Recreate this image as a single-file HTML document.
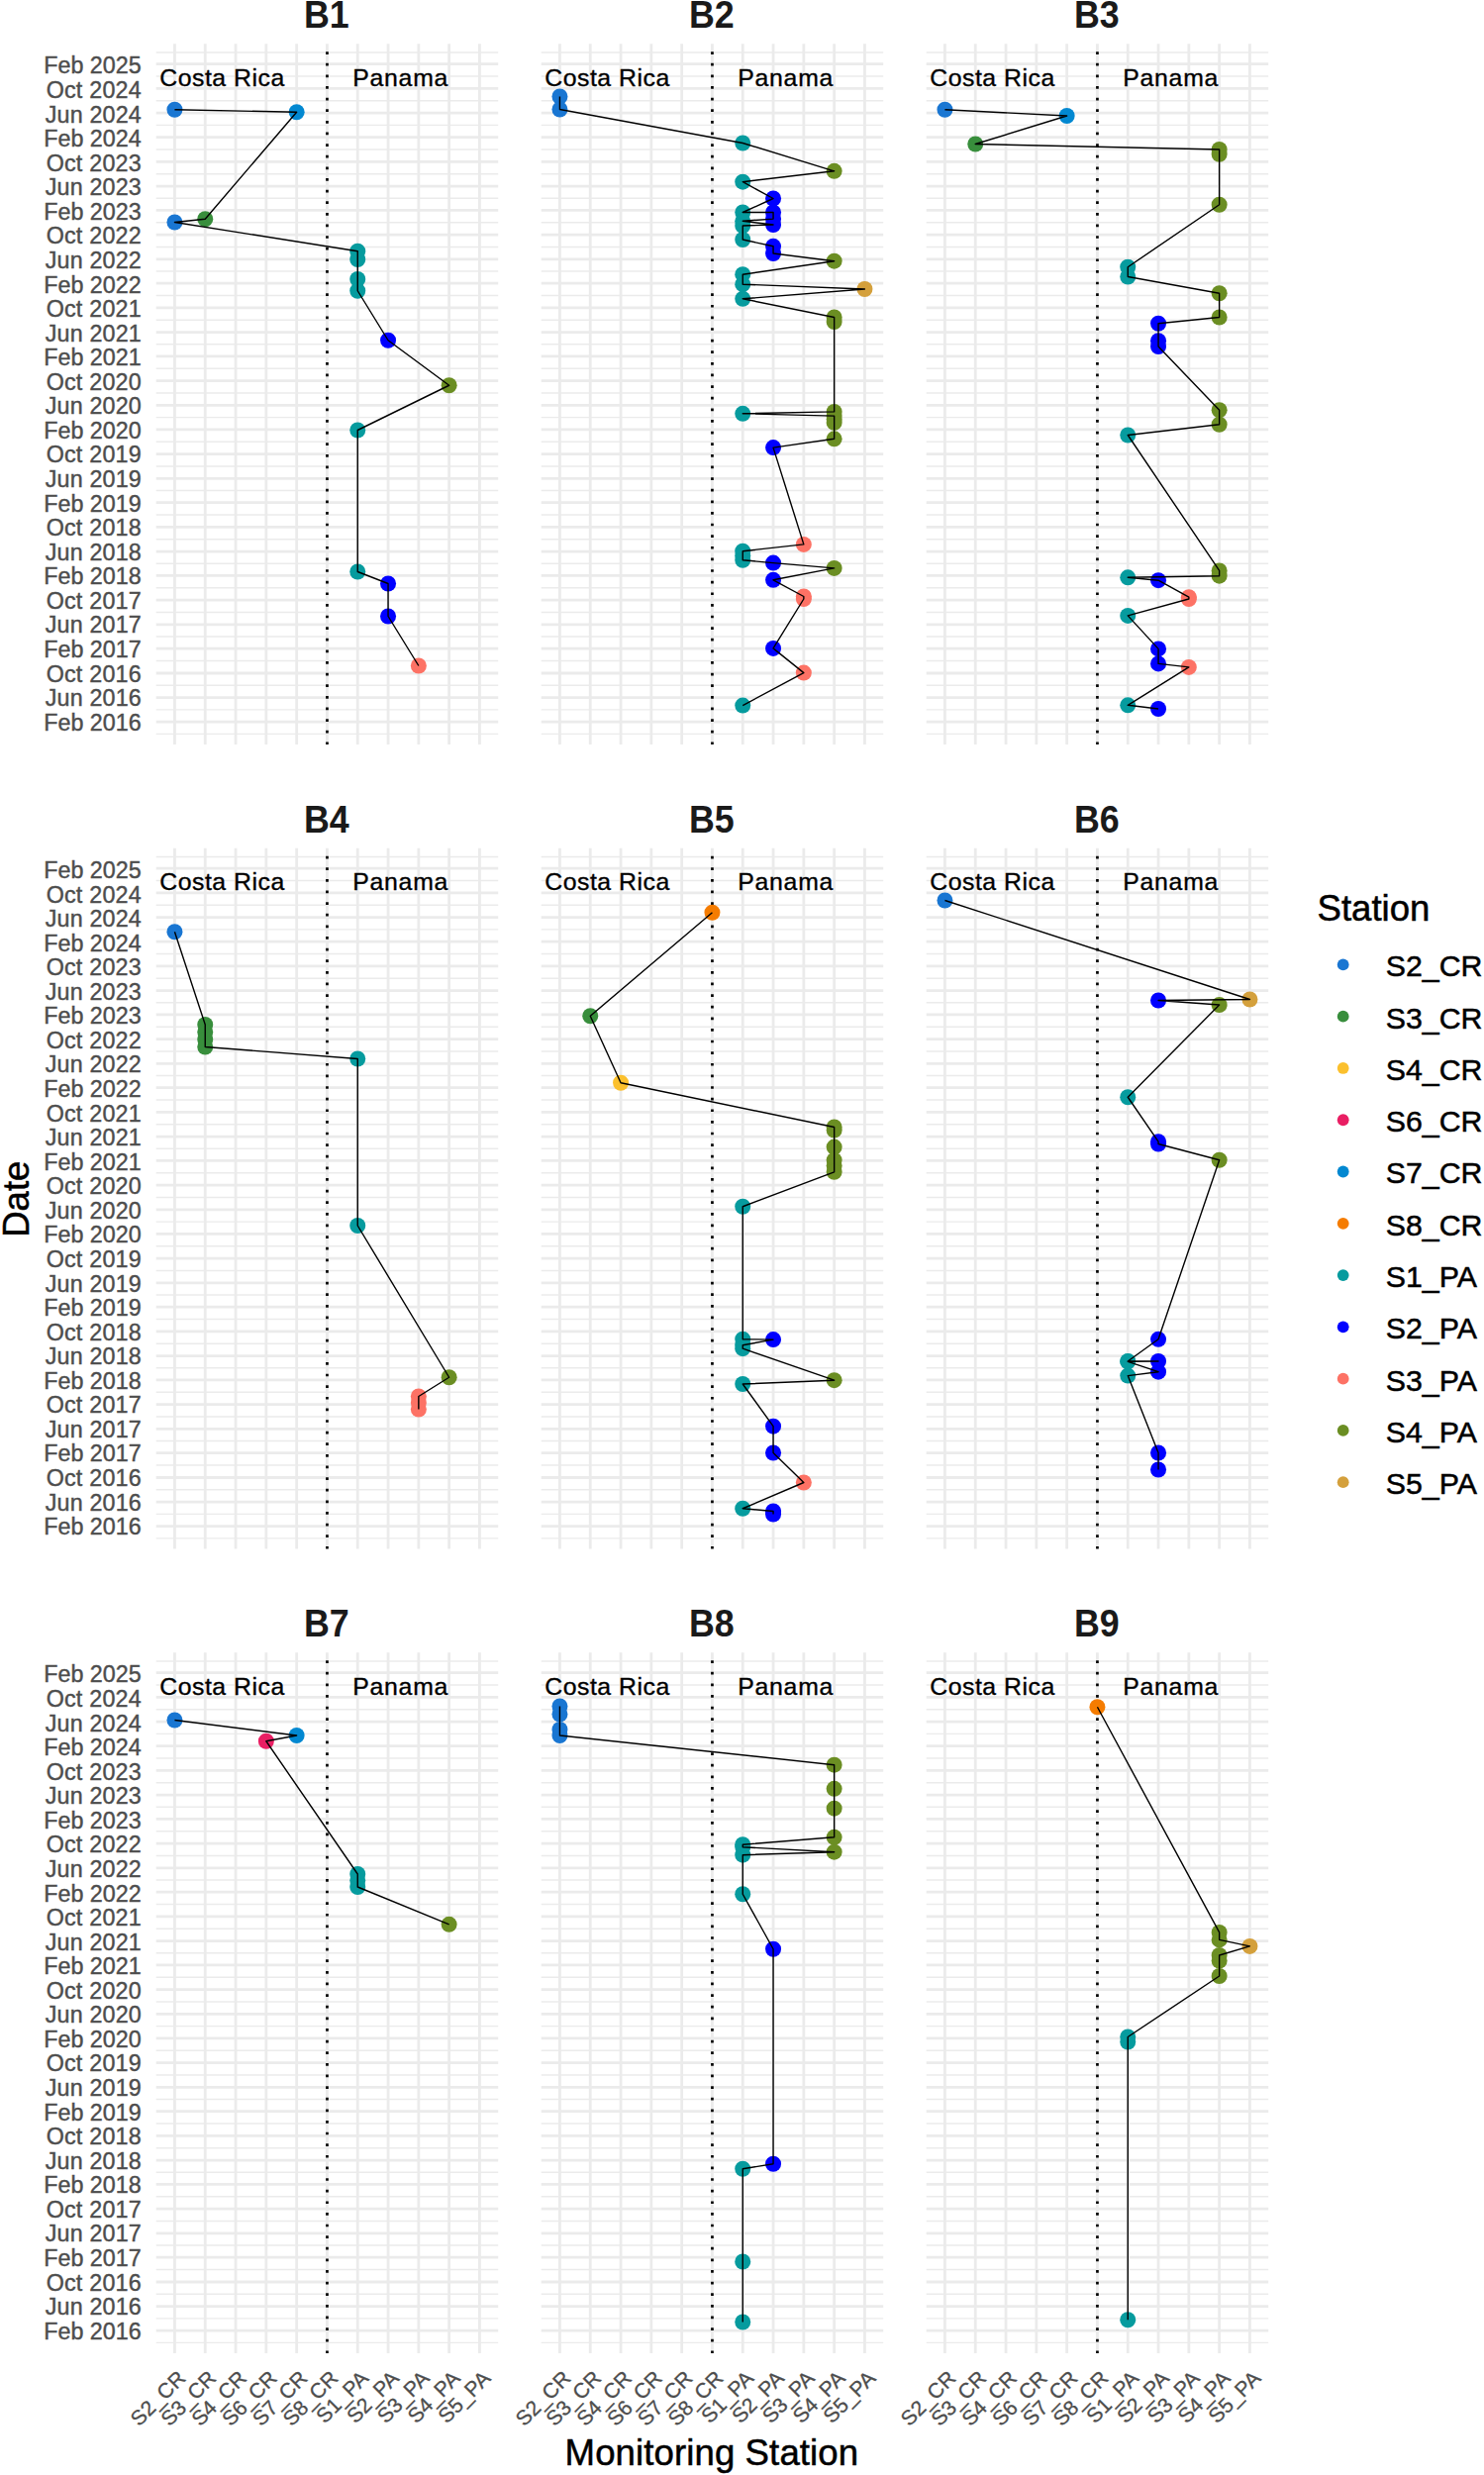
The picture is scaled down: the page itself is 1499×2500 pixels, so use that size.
<!DOCTYPE html>
<html lang="en"><head><meta charset="utf-8"><title>Monitoring Station timeline</title>
<style>
html,body{margin:0;padding:0;background:#fff;}
body{width:1499px;height:2500px;overflow:hidden;}
svg{display:block;font-family:"Liberation Sans", sans-serif;}
.ax{font-size:23.3px;fill:#4D4D4D;stroke:#4D4D4D;stroke-width:0.4px;}
.axr{font-size:21.1px;fill:#4D4D4D;stroke:#4D4D4D;stroke-width:0.3px;}
.strip{font-size:38.6px;font-weight:bold;fill:#1A1A1A;}
.ann{font-size:24.8px;fill:#000;stroke:#000;stroke-width:0.35px;}
.ttl{font-size:36.6px;fill:#000;stroke:#000;stroke-width:0.5px;}
.lg{font-size:30.3px;fill:#000;stroke:#000;stroke-width:0.5px;}
.gM{stroke:#EBEBEB;stroke-width:2.8;fill:none;}
.gm{stroke:#EBEBEB;stroke-width:1.4;fill:none;}
.vl{stroke:#000;stroke-width:2.7;stroke-dasharray:2.7 8.92;fill:none;}
.pth{stroke:#000;stroke-width:1.4;fill:none;stroke-linejoin:round;stroke-linecap:butt;}
</style></head><body>
<svg width="1499" height="2500" viewBox="0 0 1499 2500">
<rect width="1499" height="2500" fill="#fff"/>
<g class="ax" text-anchor="end">
<text x="142.7" y="737.65" textLength="98.45" lengthAdjust="spacing">Feb 2016</text>
<text x="142.7" y="713.09" textLength="96.87" lengthAdjust="spacing">Jun 2016</text>
<text x="142.7" y="688.52" textLength="96.05" lengthAdjust="spacing">Oct 2016</text>
<text x="142.7" y="663.96" textLength="98.45" lengthAdjust="spacing">Feb 2017</text>
<text x="142.7" y="639.4" textLength="96.87" lengthAdjust="spacing">Jun 2017</text>
<text x="142.7" y="614.84" textLength="96.05" lengthAdjust="spacing">Oct 2017</text>
<text x="142.7" y="590.27" textLength="98.45" lengthAdjust="spacing">Feb 2018</text>
<text x="142.7" y="565.71" textLength="96.87" lengthAdjust="spacing">Jun 2018</text>
<text x="142.7" y="541.15" textLength="96.05" lengthAdjust="spacing">Oct 2018</text>
<text x="142.7" y="516.58" textLength="98.45" lengthAdjust="spacing">Feb 2019</text>
<text x="142.7" y="492.02" textLength="96.87" lengthAdjust="spacing">Jun 2019</text>
<text x="142.7" y="467.46" textLength="96.05" lengthAdjust="spacing">Oct 2019</text>
<text x="142.7" y="442.89" textLength="98.45" lengthAdjust="spacing">Feb 2020</text>
<text x="142.7" y="418.33" textLength="96.87" lengthAdjust="spacing">Jun 2020</text>
<text x="142.7" y="393.77" textLength="96.05" lengthAdjust="spacing">Oct 2020</text>
<text x="142.7" y="369.21" textLength="98.45" lengthAdjust="spacing">Feb 2021</text>
<text x="142.7" y="344.64" textLength="96.87" lengthAdjust="spacing">Jun 2021</text>
<text x="142.7" y="320.08" textLength="96.05" lengthAdjust="spacing">Oct 2021</text>
<text x="142.7" y="295.52" textLength="98.45" lengthAdjust="spacing">Feb 2022</text>
<text x="142.7" y="270.95" textLength="96.87" lengthAdjust="spacing">Jun 2022</text>
<text x="142.7" y="246.39" textLength="96.05" lengthAdjust="spacing">Oct 2022</text>
<text x="142.7" y="221.83" textLength="98.45" lengthAdjust="spacing">Feb 2023</text>
<text x="142.7" y="197.26" textLength="96.87" lengthAdjust="spacing">Jun 2023</text>
<text x="142.7" y="172.7" textLength="96.05" lengthAdjust="spacing">Oct 2023</text>
<text x="142.7" y="148.14" textLength="98.45" lengthAdjust="spacing">Feb 2024</text>
<text x="142.7" y="123.58" textLength="96.87" lengthAdjust="spacing">Jun 2024</text>
<text x="142.7" y="99.01" textLength="96.05" lengthAdjust="spacing">Oct 2024</text>
<text x="142.7" y="74.45" textLength="98.45" lengthAdjust="spacing">Feb 2025</text>
</g>
<g id="panel-B1">
<path class="gm" d="M157.7 716.87H503.2M157.7 692.32H503.2M157.7 667.56H503.2M157.7 643.01H503.2M157.7 618.55H503.2M157.7 593.8H503.2M157.7 569.24H503.2M157.7 544.79H503.2M157.7 520.03H503.2M157.7 495.47H503.2M157.7 471.02H503.2M157.7 446.26H503.2M157.7 421.61H503.2M157.7 397.05H503.2M157.7 372.3H503.2M157.7 347.74H503.2M157.7 323.29H503.2M157.7 298.53H503.2M157.7 273.97H503.2M157.7 249.52H503.2M157.7 224.76H503.2M157.7 200.21H503.2M157.7 175.75H503.2M157.7 151H503.2M157.7 126.34H503.2M157.7 101.79H503.2M157.7 77.03H503.2M157.7 741.33H503.2M157.7 53H503.2"/>
<path class="gM" d="M157.7 729.1H503.2M157.7 704.65H503.2M157.7 679.99H503.2M157.7 655.13H503.2M157.7 630.88H503.2M157.7 606.22H503.2M157.7 581.37H503.2M157.7 557.11H503.2M157.7 532.46H503.2M157.7 507.6H503.2M157.7 483.35H503.2M157.7 458.69H503.2M157.7 433.83H503.2M157.7 409.38H503.2M157.7 384.72H503.2M157.7 359.87H503.2M157.7 335.61H503.2M157.7 310.96H503.2M157.7 286.1H503.2M157.7 261.85H503.2M157.7 237.19H503.2M157.7 212.33H503.2M157.7 188.08H503.2M157.7 163.43H503.2M157.7 138.57H503.2M157.7 114.11H503.2M157.7 89.46H503.2M157.7 64.6H503.2M176.45 44.3V752M207.25 44.3V752M238.05 44.3V752M268.85 44.3V752M299.65 44.3V752M330.45 44.3V752M361.25 44.3V752M392.05 44.3V752M422.85 44.3V752M453.65 44.3V752M484.45 44.3V752"/>
<path class="vl" d="M330.45 52.25V752"/>
<circle cx="176.45" cy="110.75" r="8.0" fill="#1976D2"/>
<circle cx="299.65" cy="113.25" r="8.0" fill="#0288D1"/>
<circle cx="207.25" cy="221.25" r="8.0" fill="#388E3C"/>
<circle cx="176.45" cy="224.5" r="8.0" fill="#1976D2"/>
<circle cx="361.25" cy="253.75" r="8.0" fill="#069B9E"/>
<circle cx="361.25" cy="262" r="8.0" fill="#069B9E"/>
<circle cx="361.25" cy="282" r="8.0" fill="#069B9E"/>
<circle cx="361.25" cy="293.75" r="8.0" fill="#069B9E"/>
<circle cx="392.05" cy="343.75" r="8.0" fill="#0000FF"/>
<circle cx="453.65" cy="389.25" r="8.0" fill="#6B8E23"/>
<circle cx="361.25" cy="434.5" r="8.0" fill="#069B9E"/>
<circle cx="361.25" cy="577.5" r="8.0" fill="#069B9E"/>
<circle cx="392.05" cy="589.5" r="8.0" fill="#0000FF"/>
<circle cx="392.05" cy="622.5" r="8.0" fill="#0000FF"/>
<circle cx="422.85" cy="672.5" r="8.0" fill="#FD7265"/>
<path class="pth" d="M176.45 110.75L299.65 113.25L207.25 221.25L176.45 224.5L361.25 253.75L361.25 262L361.25 282L361.25 293.75L392.05 343.75L453.65 389.25L361.25 434.5L361.25 577.5L392.05 589.5L392.05 622.5L422.85 672.5"/>
<text class="ann" x="161.2" y="86.8" textLength="126.1" lengthAdjust="spacing">Costa Rica</text>
<text class="ann" x="356.3" y="86.8" textLength="96.0" lengthAdjust="spacing">Panama</text>
<text class="strip" transform="translate(306.9 28) scale(0.928 1)">B1</text>
</g>
<g id="panel-B2">
<path class="gm" d="M546.7 716.87H892.2M546.7 692.32H892.2M546.7 667.56H892.2M546.7 643.01H892.2M546.7 618.55H892.2M546.7 593.8H892.2M546.7 569.24H892.2M546.7 544.79H892.2M546.7 520.03H892.2M546.7 495.47H892.2M546.7 471.02H892.2M546.7 446.26H892.2M546.7 421.61H892.2M546.7 397.05H892.2M546.7 372.3H892.2M546.7 347.74H892.2M546.7 323.29H892.2M546.7 298.53H892.2M546.7 273.97H892.2M546.7 249.52H892.2M546.7 224.76H892.2M546.7 200.21H892.2M546.7 175.75H892.2M546.7 151H892.2M546.7 126.34H892.2M546.7 101.79H892.2M546.7 77.03H892.2M546.7 741.33H892.2M546.7 53H892.2"/>
<path class="gM" d="M546.7 729.1H892.2M546.7 704.65H892.2M546.7 679.99H892.2M546.7 655.13H892.2M546.7 630.88H892.2M546.7 606.22H892.2M546.7 581.37H892.2M546.7 557.11H892.2M546.7 532.46H892.2M546.7 507.6H892.2M546.7 483.35H892.2M546.7 458.69H892.2M546.7 433.83H892.2M546.7 409.38H892.2M546.7 384.72H892.2M546.7 359.87H892.2M546.7 335.61H892.2M546.7 310.96H892.2M546.7 286.1H892.2M546.7 261.85H892.2M546.7 237.19H892.2M546.7 212.33H892.2M546.7 188.08H892.2M546.7 163.43H892.2M546.7 138.57H892.2M546.7 114.11H892.2M546.7 89.46H892.2M546.7 64.6H892.2M565.45 44.3V752M596.25 44.3V752M627.05 44.3V752M657.85 44.3V752M688.65 44.3V752M719.45 44.3V752M750.25 44.3V752M781.05 44.3V752M811.85 44.3V752M842.65 44.3V752M873.45 44.3V752"/>
<path class="vl" d="M719.45 52.25V752"/>
<circle cx="565.45" cy="97.5" r="8.0" fill="#1976D2"/>
<circle cx="565.45" cy="110.5" r="8.0" fill="#1976D2"/>
<circle cx="750.25" cy="144.5" r="8.0" fill="#069B9E"/>
<circle cx="842.65" cy="172.8" r="8.0" fill="#6B8E23"/>
<circle cx="750.25" cy="183.7" r="8.0" fill="#069B9E"/>
<circle cx="781.05" cy="200.5" r="8.0" fill="#0000FF"/>
<circle cx="750.25" cy="214.5" r="8.0" fill="#069B9E"/>
<circle cx="781.05" cy="214.5" r="8.0" fill="#0000FF"/>
<circle cx="781.05" cy="221.1" r="8.0" fill="#0000FF"/>
<circle cx="750.25" cy="223.3" r="8.0" fill="#069B9E"/>
<circle cx="781.05" cy="227" r="8.0" fill="#0000FF"/>
<circle cx="750.25" cy="228" r="8.0" fill="#069B9E"/>
<circle cx="750.25" cy="242" r="8.0" fill="#069B9E"/>
<circle cx="781.05" cy="248.8" r="8.0" fill="#0000FF"/>
<circle cx="781.05" cy="256" r="8.0" fill="#0000FF"/>
<circle cx="842.65" cy="263.7" r="8.0" fill="#6B8E23"/>
<circle cx="750.25" cy="277.2" r="8.0" fill="#069B9E"/>
<circle cx="750.25" cy="287.2" r="8.0" fill="#069B9E"/>
<circle cx="873.45" cy="292" r="8.0" fill="#D4A03C"/>
<circle cx="750.25" cy="301.8" r="8.0" fill="#069B9E"/>
<circle cx="842.65" cy="320.5" r="8.0" fill="#6B8E23"/>
<circle cx="842.65" cy="325" r="8.0" fill="#6B8E23"/>
<circle cx="842.65" cy="415.9" r="8.0" fill="#6B8E23"/>
<circle cx="750.25" cy="417.8" r="8.0" fill="#069B9E"/>
<circle cx="842.65" cy="420.1" r="8.0" fill="#6B8E23"/>
<circle cx="842.65" cy="423.5" r="8.0" fill="#6B8E23"/>
<circle cx="842.65" cy="426.9" r="8.0" fill="#6B8E23"/>
<circle cx="842.65" cy="443.3" r="8.0" fill="#6B8E23"/>
<circle cx="781.05" cy="452.1" r="8.0" fill="#0000FF"/>
<circle cx="811.85" cy="549.9" r="8.0" fill="#FD7265"/>
<circle cx="750.25" cy="556.7" r="8.0" fill="#069B9E"/>
<circle cx="750.25" cy="561.2" r="8.0" fill="#069B9E"/>
<circle cx="750.25" cy="565.8" r="8.0" fill="#069B9E"/>
<circle cx="781.05" cy="568.6" r="8.0" fill="#0000FF"/>
<circle cx="842.65" cy="573.9" r="8.0" fill="#6B8E23"/>
<circle cx="781.05" cy="585.8" r="8.0" fill="#0000FF"/>
<circle cx="811.85" cy="602.5" r="8.0" fill="#FD7265"/>
<circle cx="811.85" cy="605" r="8.0" fill="#FD7265"/>
<circle cx="781.05" cy="654.9" r="8.0" fill="#0000FF"/>
<circle cx="811.85" cy="679.6" r="8.0" fill="#FD7265"/>
<circle cx="750.25" cy="712.6" r="8.0" fill="#069B9E"/>
<path class="pth" d="M565.45 97.5L565.45 110.5L750.25 144.5L842.65 172.8L750.25 183.7L781.05 200.5L750.25 214.5L781.05 214.5L781.05 221.1L750.25 223.3L781.05 227L750.25 228L750.25 242L781.05 248.8L781.05 256L842.65 263.7L750.25 277.2L750.25 287.2L873.45 292L750.25 301.8L842.65 320.5L842.65 325L842.65 415.9L750.25 417.8L842.65 420.1L842.65 423.5L842.65 426.9L842.65 443.3L781.05 452.1L811.85 549.9L750.25 556.7L750.25 561.2L750.25 565.8L781.05 568.6L842.65 573.9L781.05 585.8L811.85 602.5L811.85 605L781.05 654.9L811.85 679.6L750.25 712.6"/>
<text class="ann" x="550.2" y="86.8" textLength="126.1" lengthAdjust="spacing">Costa Rica</text>
<text class="ann" x="745.3" y="86.8" textLength="96.0" lengthAdjust="spacing">Panama</text>
<text class="strip" transform="translate(695.9 28) scale(0.928 1)">B2</text>
</g>
<g id="panel-B3">
<path class="gm" d="M935.7 716.87H1281.2M935.7 692.32H1281.2M935.7 667.56H1281.2M935.7 643.01H1281.2M935.7 618.55H1281.2M935.7 593.8H1281.2M935.7 569.24H1281.2M935.7 544.79H1281.2M935.7 520.03H1281.2M935.7 495.47H1281.2M935.7 471.02H1281.2M935.7 446.26H1281.2M935.7 421.61H1281.2M935.7 397.05H1281.2M935.7 372.3H1281.2M935.7 347.74H1281.2M935.7 323.29H1281.2M935.7 298.53H1281.2M935.7 273.97H1281.2M935.7 249.52H1281.2M935.7 224.76H1281.2M935.7 200.21H1281.2M935.7 175.75H1281.2M935.7 151H1281.2M935.7 126.34H1281.2M935.7 101.79H1281.2M935.7 77.03H1281.2M935.7 741.33H1281.2M935.7 53H1281.2"/>
<path class="gM" d="M935.7 729.1H1281.2M935.7 704.65H1281.2M935.7 679.99H1281.2M935.7 655.13H1281.2M935.7 630.88H1281.2M935.7 606.22H1281.2M935.7 581.37H1281.2M935.7 557.11H1281.2M935.7 532.46H1281.2M935.7 507.6H1281.2M935.7 483.35H1281.2M935.7 458.69H1281.2M935.7 433.83H1281.2M935.7 409.38H1281.2M935.7 384.72H1281.2M935.7 359.87H1281.2M935.7 335.61H1281.2M935.7 310.96H1281.2M935.7 286.1H1281.2M935.7 261.85H1281.2M935.7 237.19H1281.2M935.7 212.33H1281.2M935.7 188.08H1281.2M935.7 163.43H1281.2M935.7 138.57H1281.2M935.7 114.11H1281.2M935.7 89.46H1281.2M935.7 64.6H1281.2M954.45 44.3V752M985.25 44.3V752M1016.05 44.3V752M1046.85 44.3V752M1077.65 44.3V752M1108.45 44.3V752M1139.25 44.3V752M1170.05 44.3V752M1200.85 44.3V752M1231.65 44.3V752M1262.45 44.3V752"/>
<path class="vl" d="M1108.45 52.25V752"/>
<circle cx="954.45" cy="110.75" r="8.0" fill="#1976D2"/>
<circle cx="1077.65" cy="117" r="8.0" fill="#0288D1"/>
<circle cx="985.25" cy="145.5" r="8.0" fill="#388E3C"/>
<circle cx="1231.65" cy="151" r="8.0" fill="#6B8E23"/>
<circle cx="1231.65" cy="155.75" r="8.0" fill="#6B8E23"/>
<circle cx="1231.65" cy="206.75" r="8.0" fill="#6B8E23"/>
<circle cx="1139.25" cy="269.75" r="8.0" fill="#069B9E"/>
<circle cx="1139.25" cy="279.5" r="8.0" fill="#069B9E"/>
<circle cx="1231.65" cy="296.25" r="8.0" fill="#6B8E23"/>
<circle cx="1231.65" cy="320.5" r="8.0" fill="#6B8E23"/>
<circle cx="1170.05" cy="326.75" r="8.0" fill="#0000FF"/>
<circle cx="1170.05" cy="344.25" r="8.0" fill="#0000FF"/>
<circle cx="1170.05" cy="350" r="8.0" fill="#0000FF"/>
<circle cx="1231.65" cy="414.25" r="8.0" fill="#6B8E23"/>
<circle cx="1231.65" cy="428.75" r="8.0" fill="#6B8E23"/>
<circle cx="1139.25" cy="439.5" r="8.0" fill="#069B9E"/>
<circle cx="1231.65" cy="576.4" r="8.0" fill="#6B8E23"/>
<circle cx="1231.65" cy="581.7" r="8.0" fill="#6B8E23"/>
<circle cx="1139.25" cy="583.3" r="8.0" fill="#069B9E"/>
<circle cx="1170.05" cy="586.2" r="8.0" fill="#0000FF"/>
<circle cx="1200.85" cy="603.2" r="8.0" fill="#FD7265"/>
<circle cx="1200.85" cy="605" r="8.0" fill="#FD7265"/>
<circle cx="1139.25" cy="621.9" r="8.0" fill="#069B9E"/>
<circle cx="1170.05" cy="655.4" r="8.0" fill="#0000FF"/>
<circle cx="1170.05" cy="670.4" r="8.0" fill="#0000FF"/>
<circle cx="1200.85" cy="673.9" r="8.0" fill="#FD7265"/>
<circle cx="1139.25" cy="712.3" r="8.0" fill="#069B9E"/>
<circle cx="1170.05" cy="716" r="8.0" fill="#0000FF"/>
<path class="pth" d="M954.45 110.75L1077.65 117L985.25 145.5L1231.65 151L1231.65 155.75L1231.65 206.75L1139.25 269.75L1139.25 279.5L1231.65 296.25L1231.65 320.5L1170.05 326.75L1170.05 344.25L1170.05 350L1231.65 414.25L1231.65 428.75L1139.25 439.5L1231.65 576.4L1231.65 581.7L1139.25 583.3L1170.05 586.2L1200.85 603.2L1200.85 605L1139.25 621.9L1170.05 655.4L1170.05 670.4L1200.85 673.9L1139.25 712.3L1170.05 716"/>
<text class="ann" x="939.2" y="86.8" textLength="126.1" lengthAdjust="spacing">Costa Rica</text>
<text class="ann" x="1134.3" y="86.8" textLength="96.0" lengthAdjust="spacing">Panama</text>
<text class="strip" transform="translate(1084.9 28) scale(0.928 1)">B3</text>
</g>
<g class="ax" text-anchor="end">
<text x="142.7" y="1550.15" textLength="98.45" lengthAdjust="spacing">Feb 2016</text>
<text x="142.7" y="1525.59" textLength="96.87" lengthAdjust="spacing">Jun 2016</text>
<text x="142.7" y="1501.03" textLength="96.05" lengthAdjust="spacing">Oct 2016</text>
<text x="142.7" y="1476.46" textLength="98.45" lengthAdjust="spacing">Feb 2017</text>
<text x="142.7" y="1451.9" textLength="96.87" lengthAdjust="spacing">Jun 2017</text>
<text x="142.7" y="1427.34" textLength="96.05" lengthAdjust="spacing">Oct 2017</text>
<text x="142.7" y="1402.77" textLength="98.45" lengthAdjust="spacing">Feb 2018</text>
<text x="142.7" y="1378.21" textLength="96.87" lengthAdjust="spacing">Jun 2018</text>
<text x="142.7" y="1353.65" textLength="96.05" lengthAdjust="spacing">Oct 2018</text>
<text x="142.7" y="1329.08" textLength="98.45" lengthAdjust="spacing">Feb 2019</text>
<text x="142.7" y="1304.52" textLength="96.87" lengthAdjust="spacing">Jun 2019</text>
<text x="142.7" y="1279.96" textLength="96.05" lengthAdjust="spacing">Oct 2019</text>
<text x="142.7" y="1255.39" textLength="98.45" lengthAdjust="spacing">Feb 2020</text>
<text x="142.7" y="1230.83" textLength="96.87" lengthAdjust="spacing">Jun 2020</text>
<text x="142.7" y="1206.27" textLength="96.05" lengthAdjust="spacing">Oct 2020</text>
<text x="142.7" y="1181.71" textLength="98.45" lengthAdjust="spacing">Feb 2021</text>
<text x="142.7" y="1157.14" textLength="96.87" lengthAdjust="spacing">Jun 2021</text>
<text x="142.7" y="1132.58" textLength="96.05" lengthAdjust="spacing">Oct 2021</text>
<text x="142.7" y="1108.02" textLength="98.45" lengthAdjust="spacing">Feb 2022</text>
<text x="142.7" y="1083.45" textLength="96.87" lengthAdjust="spacing">Jun 2022</text>
<text x="142.7" y="1058.89" textLength="96.05" lengthAdjust="spacing">Oct 2022</text>
<text x="142.7" y="1034.33" textLength="98.45" lengthAdjust="spacing">Feb 2023</text>
<text x="142.7" y="1009.76" textLength="96.87" lengthAdjust="spacing">Jun 2023</text>
<text x="142.7" y="985.2" textLength="96.05" lengthAdjust="spacing">Oct 2023</text>
<text x="142.7" y="960.64" textLength="98.45" lengthAdjust="spacing">Feb 2024</text>
<text x="142.7" y="936.08" textLength="96.87" lengthAdjust="spacing">Jun 2024</text>
<text x="142.7" y="911.51" textLength="96.05" lengthAdjust="spacing">Oct 2024</text>
<text x="142.7" y="886.95" textLength="98.45" lengthAdjust="spacing">Feb 2025</text>
</g>
<g id="panel-B4">
<path class="gm" d="M157.7 1529.37H503.2M157.7 1504.82H503.2M157.7 1480.06H503.2M157.7 1455.51H503.2M157.7 1431.05H503.2M157.7 1406.3H503.2M157.7 1381.74H503.2M157.7 1357.29H503.2M157.7 1332.53H503.2M157.7 1307.97H503.2M157.7 1283.52H503.2M157.7 1258.76H503.2M157.7 1234.11H503.2M157.7 1209.55H503.2M157.7 1184.8H503.2M157.7 1160.24H503.2M157.7 1135.79H503.2M157.7 1111.03H503.2M157.7 1086.47H503.2M157.7 1062.02H503.2M157.7 1037.26H503.2M157.7 1012.71H503.2M157.7 988.25H503.2M157.7 963.5H503.2M157.7 938.84H503.2M157.7 914.29H503.2M157.7 889.53H503.2M157.7 1553.83H503.2M157.7 865.5H503.2"/>
<path class="gM" d="M157.7 1541.6H503.2M157.7 1517.15H503.2M157.7 1492.49H503.2M157.7 1467.63H503.2M157.7 1443.38H503.2M157.7 1418.72H503.2M157.7 1393.87H503.2M157.7 1369.61H503.2M157.7 1344.96H503.2M157.7 1320.1H503.2M157.7 1295.85H503.2M157.7 1271.19H503.2M157.7 1246.33H503.2M157.7 1221.88H503.2M157.7 1197.22H503.2M157.7 1172.37H503.2M157.7 1148.11H503.2M157.7 1123.46H503.2M157.7 1098.6H503.2M157.7 1074.35H503.2M157.7 1049.69H503.2M157.7 1024.83H503.2M157.7 1000.58H503.2M157.7 975.93H503.2M157.7 951.07H503.2M157.7 926.61H503.2M157.7 901.96H503.2M157.7 877.1H503.2M176.45 856.8V1564.5M207.25 856.8V1564.5M238.05 856.8V1564.5M268.85 856.8V1564.5M299.65 856.8V1564.5M330.45 856.8V1564.5M361.25 856.8V1564.5M392.05 856.8V1564.5M422.85 856.8V1564.5M453.65 856.8V1564.5M484.45 856.8V1564.5"/>
<path class="vl" d="M330.45 864.75V1564.5"/>
<circle cx="176.45" cy="941.25" r="8.0" fill="#1976D2"/>
<circle cx="207.25" cy="1035" r="8.0" fill="#388E3C"/>
<circle cx="207.25" cy="1042.5" r="8.0" fill="#388E3C"/>
<circle cx="207.25" cy="1050" r="8.0" fill="#388E3C"/>
<circle cx="207.25" cy="1057.5" r="8.0" fill="#388E3C"/>
<circle cx="361.25" cy="1069.5" r="8.0" fill="#069B9E"/>
<circle cx="361.25" cy="1238" r="8.0" fill="#069B9E"/>
<circle cx="453.65" cy="1391.25" r="8.0" fill="#6B8E23"/>
<circle cx="422.85" cy="1410.5" r="8.0" fill="#FD7265"/>
<circle cx="422.85" cy="1417" r="8.0" fill="#FD7265"/>
<circle cx="422.85" cy="1423.5" r="8.0" fill="#FD7265"/>
<path class="pth" d="M176.45 941.25L207.25 1035L207.25 1042.5L207.25 1050L207.25 1057.5L361.25 1069.5L361.25 1238L453.65 1391.25L422.85 1410.5L422.85 1417L422.85 1423.5"/>
<text class="ann" x="161.2" y="899.3" textLength="126.1" lengthAdjust="spacing">Costa Rica</text>
<text class="ann" x="356.3" y="899.3" textLength="96.0" lengthAdjust="spacing">Panama</text>
<text class="strip" transform="translate(306.9 840.5) scale(0.928 1)">B4</text>
</g>
<g id="panel-B5">
<path class="gm" d="M546.7 1529.37H892.2M546.7 1504.82H892.2M546.7 1480.06H892.2M546.7 1455.51H892.2M546.7 1431.05H892.2M546.7 1406.3H892.2M546.7 1381.74H892.2M546.7 1357.29H892.2M546.7 1332.53H892.2M546.7 1307.97H892.2M546.7 1283.52H892.2M546.7 1258.76H892.2M546.7 1234.11H892.2M546.7 1209.55H892.2M546.7 1184.8H892.2M546.7 1160.24H892.2M546.7 1135.79H892.2M546.7 1111.03H892.2M546.7 1086.47H892.2M546.7 1062.02H892.2M546.7 1037.26H892.2M546.7 1012.71H892.2M546.7 988.25H892.2M546.7 963.5H892.2M546.7 938.84H892.2M546.7 914.29H892.2M546.7 889.53H892.2M546.7 1553.83H892.2M546.7 865.5H892.2"/>
<path class="gM" d="M546.7 1541.6H892.2M546.7 1517.15H892.2M546.7 1492.49H892.2M546.7 1467.63H892.2M546.7 1443.38H892.2M546.7 1418.72H892.2M546.7 1393.87H892.2M546.7 1369.61H892.2M546.7 1344.96H892.2M546.7 1320.1H892.2M546.7 1295.85H892.2M546.7 1271.19H892.2M546.7 1246.33H892.2M546.7 1221.88H892.2M546.7 1197.22H892.2M546.7 1172.37H892.2M546.7 1148.11H892.2M546.7 1123.46H892.2M546.7 1098.6H892.2M546.7 1074.35H892.2M546.7 1049.69H892.2M546.7 1024.83H892.2M546.7 1000.58H892.2M546.7 975.93H892.2M546.7 951.07H892.2M546.7 926.61H892.2M546.7 901.96H892.2M546.7 877.1H892.2M565.45 856.8V1564.5M596.25 856.8V1564.5M627.05 856.8V1564.5M657.85 856.8V1564.5M688.65 856.8V1564.5M719.45 856.8V1564.5M750.25 856.8V1564.5M781.05 856.8V1564.5M811.85 856.8V1564.5M842.65 856.8V1564.5M873.45 856.8V1564.5"/>
<path class="vl" d="M719.45 864.75V1564.5"/>
<circle cx="719.45" cy="921.75" r="8.0" fill="#F57C00"/>
<circle cx="596.25" cy="1026.25" r="8.0" fill="#388E3C"/>
<circle cx="627.05" cy="1093.75" r="8.0" fill="#FBC02D"/>
<circle cx="842.65" cy="1138.5" r="8.0" fill="#6B8E23"/>
<circle cx="842.65" cy="1141.5" r="8.0" fill="#6B8E23"/>
<circle cx="842.65" cy="1158.6" r="8.0" fill="#6B8E23"/>
<circle cx="842.65" cy="1171.8" r="8.0" fill="#6B8E23"/>
<circle cx="842.65" cy="1177.5" r="8.0" fill="#6B8E23"/>
<circle cx="842.65" cy="1183.8" r="8.0" fill="#6B8E23"/>
<circle cx="750.25" cy="1218.75" r="8.0" fill="#069B9E"/>
<circle cx="750.25" cy="1352.7" r="8.0" fill="#069B9E"/>
<circle cx="781.05" cy="1353.1" r="8.0" fill="#0000FF"/>
<circle cx="750.25" cy="1358.7" r="8.0" fill="#069B9E"/>
<circle cx="750.25" cy="1362.2" r="8.0" fill="#069B9E"/>
<circle cx="842.65" cy="1394.2" r="8.0" fill="#6B8E23"/>
<circle cx="750.25" cy="1398" r="8.0" fill="#069B9E"/>
<circle cx="781.05" cy="1440.7" r="8.0" fill="#0000FF"/>
<circle cx="781.05" cy="1467.5" r="8.0" fill="#0000FF"/>
<circle cx="811.85" cy="1497.5" r="8.0" fill="#FD7265"/>
<circle cx="750.25" cy="1523.75" r="8.0" fill="#069B9E"/>
<circle cx="781.05" cy="1526.5" r="8.0" fill="#0000FF"/>
<circle cx="781.05" cy="1529.5" r="8.0" fill="#0000FF"/>
<path class="pth" d="M719.45 921.75L596.25 1026.25L627.05 1093.75L842.65 1138.5L842.65 1141.5L842.65 1158.6L842.65 1171.8L842.65 1177.5L842.65 1183.8L750.25 1218.75L750.25 1352.7L781.05 1353.1L750.25 1358.7L750.25 1362.2L842.65 1394.2L750.25 1398L781.05 1440.7L781.05 1467.5L811.85 1497.5L750.25 1523.75L781.05 1526.5L781.05 1529.5"/>
<text class="ann" x="550.2" y="899.3" textLength="126.1" lengthAdjust="spacing">Costa Rica</text>
<text class="ann" x="745.3" y="899.3" textLength="96.0" lengthAdjust="spacing">Panama</text>
<text class="strip" transform="translate(695.9 840.5) scale(0.928 1)">B5</text>
</g>
<g id="panel-B6">
<path class="gm" d="M935.7 1529.37H1281.2M935.7 1504.82H1281.2M935.7 1480.06H1281.2M935.7 1455.51H1281.2M935.7 1431.05H1281.2M935.7 1406.3H1281.2M935.7 1381.74H1281.2M935.7 1357.29H1281.2M935.7 1332.53H1281.2M935.7 1307.97H1281.2M935.7 1283.52H1281.2M935.7 1258.76H1281.2M935.7 1234.11H1281.2M935.7 1209.55H1281.2M935.7 1184.8H1281.2M935.7 1160.24H1281.2M935.7 1135.79H1281.2M935.7 1111.03H1281.2M935.7 1086.47H1281.2M935.7 1062.02H1281.2M935.7 1037.26H1281.2M935.7 1012.71H1281.2M935.7 988.25H1281.2M935.7 963.5H1281.2M935.7 938.84H1281.2M935.7 914.29H1281.2M935.7 889.53H1281.2M935.7 1553.83H1281.2M935.7 865.5H1281.2"/>
<path class="gM" d="M935.7 1541.6H1281.2M935.7 1517.15H1281.2M935.7 1492.49H1281.2M935.7 1467.63H1281.2M935.7 1443.38H1281.2M935.7 1418.72H1281.2M935.7 1393.87H1281.2M935.7 1369.61H1281.2M935.7 1344.96H1281.2M935.7 1320.1H1281.2M935.7 1295.85H1281.2M935.7 1271.19H1281.2M935.7 1246.33H1281.2M935.7 1221.88H1281.2M935.7 1197.22H1281.2M935.7 1172.37H1281.2M935.7 1148.11H1281.2M935.7 1123.46H1281.2M935.7 1098.6H1281.2M935.7 1074.35H1281.2M935.7 1049.69H1281.2M935.7 1024.83H1281.2M935.7 1000.58H1281.2M935.7 975.93H1281.2M935.7 951.07H1281.2M935.7 926.61H1281.2M935.7 901.96H1281.2M935.7 877.1H1281.2M954.45 856.8V1564.5M985.25 856.8V1564.5M1016.05 856.8V1564.5M1046.85 856.8V1564.5M1077.65 856.8V1564.5M1108.45 856.8V1564.5M1139.25 856.8V1564.5M1170.05 856.8V1564.5M1200.85 856.8V1564.5M1231.65 856.8V1564.5M1262.45 856.8V1564.5"/>
<path class="vl" d="M1108.45 864.75V1564.5"/>
<circle cx="954.45" cy="909.5" r="8.0" fill="#1976D2"/>
<circle cx="1262.45" cy="1009.5" r="8.0" fill="#D4A03C"/>
<circle cx="1170.05" cy="1010.5" r="8.0" fill="#0000FF"/>
<circle cx="1231.65" cy="1015" r="8.0" fill="#6B8E23"/>
<circle cx="1139.25" cy="1108.25" r="8.0" fill="#069B9E"/>
<circle cx="1170.05" cy="1153.2" r="8.0" fill="#0000FF"/>
<circle cx="1170.05" cy="1155.5" r="8.0" fill="#0000FF"/>
<circle cx="1231.65" cy="1171.75" r="8.0" fill="#6B8E23"/>
<circle cx="1170.05" cy="1352.8" r="8.0" fill="#0000FF"/>
<circle cx="1139.25" cy="1375" r="8.0" fill="#069B9E"/>
<circle cx="1170.05" cy="1375" r="8.0" fill="#0000FF"/>
<circle cx="1139.25" cy="1375.3" r="8.0" fill="#069B9E"/>
<circle cx="1170.05" cy="1385.7" r="8.0" fill="#0000FF"/>
<circle cx="1139.25" cy="1389.6" r="8.0" fill="#069B9E"/>
<circle cx="1170.05" cy="1467.5" r="8.0" fill="#0000FF"/>
<circle cx="1170.05" cy="1484.5" r="8.0" fill="#0000FF"/>
<path class="pth" d="M954.45 909.5L1262.45 1009.5L1170.05 1010.5L1231.65 1015L1139.25 1108.25L1170.05 1153.2L1170.05 1155.5L1231.65 1171.75L1170.05 1352.8L1139.25 1375L1170.05 1375L1139.25 1375.3L1170.05 1385.7L1139.25 1389.6L1170.05 1467.5L1170.05 1484.5"/>
<text class="ann" x="939.2" y="899.3" textLength="126.1" lengthAdjust="spacing">Costa Rica</text>
<text class="ann" x="1134.3" y="899.3" textLength="96.0" lengthAdjust="spacing">Panama</text>
<text class="strip" transform="translate(1084.9 840.5) scale(0.928 1)">B6</text>
</g>
<g class="ax" text-anchor="end">
<text x="142.7" y="2362.65" textLength="98.45" lengthAdjust="spacing">Feb 2016</text>
<text x="142.7" y="2338.09" textLength="96.87" lengthAdjust="spacing">Jun 2016</text>
<text x="142.7" y="2313.53" textLength="96.05" lengthAdjust="spacing">Oct 2016</text>
<text x="142.7" y="2288.96" textLength="98.45" lengthAdjust="spacing">Feb 2017</text>
<text x="142.7" y="2264.4" textLength="96.87" lengthAdjust="spacing">Jun 2017</text>
<text x="142.7" y="2239.84" textLength="96.05" lengthAdjust="spacing">Oct 2017</text>
<text x="142.7" y="2215.27" textLength="98.45" lengthAdjust="spacing">Feb 2018</text>
<text x="142.7" y="2190.71" textLength="96.87" lengthAdjust="spacing">Jun 2018</text>
<text x="142.7" y="2166.15" textLength="96.05" lengthAdjust="spacing">Oct 2018</text>
<text x="142.7" y="2141.58" textLength="98.45" lengthAdjust="spacing">Feb 2019</text>
<text x="142.7" y="2117.02" textLength="96.87" lengthAdjust="spacing">Jun 2019</text>
<text x="142.7" y="2092.46" textLength="96.05" lengthAdjust="spacing">Oct 2019</text>
<text x="142.7" y="2067.89" textLength="98.45" lengthAdjust="spacing">Feb 2020</text>
<text x="142.7" y="2043.33" textLength="96.87" lengthAdjust="spacing">Jun 2020</text>
<text x="142.7" y="2018.77" textLength="96.05" lengthAdjust="spacing">Oct 2020</text>
<text x="142.7" y="1994.21" textLength="98.45" lengthAdjust="spacing">Feb 2021</text>
<text x="142.7" y="1969.64" textLength="96.87" lengthAdjust="spacing">Jun 2021</text>
<text x="142.7" y="1945.08" textLength="96.05" lengthAdjust="spacing">Oct 2021</text>
<text x="142.7" y="1920.52" textLength="98.45" lengthAdjust="spacing">Feb 2022</text>
<text x="142.7" y="1895.95" textLength="96.87" lengthAdjust="spacing">Jun 2022</text>
<text x="142.7" y="1871.39" textLength="96.05" lengthAdjust="spacing">Oct 2022</text>
<text x="142.7" y="1846.83" textLength="98.45" lengthAdjust="spacing">Feb 2023</text>
<text x="142.7" y="1822.26" textLength="96.87" lengthAdjust="spacing">Jun 2023</text>
<text x="142.7" y="1797.7" textLength="96.05" lengthAdjust="spacing">Oct 2023</text>
<text x="142.7" y="1773.14" textLength="98.45" lengthAdjust="spacing">Feb 2024</text>
<text x="142.7" y="1748.58" textLength="96.87" lengthAdjust="spacing">Jun 2024</text>
<text x="142.7" y="1724.01" textLength="96.05" lengthAdjust="spacing">Oct 2024</text>
<text x="142.7" y="1699.45" textLength="98.45" lengthAdjust="spacing">Feb 2025</text>
</g>
<g id="panel-B7">
<path class="gm" d="M157.7 2341.87H503.2M157.7 2317.32H503.2M157.7 2292.56H503.2M157.7 2268.01H503.2M157.7 2243.55H503.2M157.7 2218.8H503.2M157.7 2194.24H503.2M157.7 2169.79H503.2M157.7 2145.03H503.2M157.7 2120.47H503.2M157.7 2096.02H503.2M157.7 2071.26H503.2M157.7 2046.61H503.2M157.7 2022.05H503.2M157.7 1997.3H503.2M157.7 1972.74H503.2M157.7 1948.29H503.2M157.7 1923.53H503.2M157.7 1898.97H503.2M157.7 1874.52H503.2M157.7 1849.76H503.2M157.7 1825.21H503.2M157.7 1800.75H503.2M157.7 1776H503.2M157.7 1751.34H503.2M157.7 1726.79H503.2M157.7 1702.03H503.2M157.7 2366.33H503.2M157.7 1678H503.2"/>
<path class="gM" d="M157.7 2354.1H503.2M157.7 2329.65H503.2M157.7 2304.99H503.2M157.7 2280.13H503.2M157.7 2255.88H503.2M157.7 2231.22H503.2M157.7 2206.37H503.2M157.7 2182.11H503.2M157.7 2157.46H503.2M157.7 2132.6H503.2M157.7 2108.35H503.2M157.7 2083.69H503.2M157.7 2058.83H503.2M157.7 2034.38H503.2M157.7 2009.72H503.2M157.7 1984.87H503.2M157.7 1960.61H503.2M157.7 1935.96H503.2M157.7 1911.1H503.2M157.7 1886.85H503.2M157.7 1862.19H503.2M157.7 1837.33H503.2M157.7 1813.08H503.2M157.7 1788.43H503.2M157.7 1763.57H503.2M157.7 1739.11H503.2M157.7 1714.46H503.2M157.7 1689.6H503.2M176.45 1669.3V2377M207.25 1669.3V2377M238.05 1669.3V2377M268.85 1669.3V2377M299.65 1669.3V2377M330.45 1669.3V2377M361.25 1669.3V2377M392.05 1669.3V2377M422.85 1669.3V2377M453.65 1669.3V2377M484.45 1669.3V2377"/>
<path class="vl" d="M330.45 1677.25V2377"/>
<circle cx="176.45" cy="1737.5" r="8.0" fill="#1976D2"/>
<circle cx="299.65" cy="1753" r="8.0" fill="#0288D1"/>
<circle cx="268.85" cy="1758.75" r="8.0" fill="#E91E63"/>
<circle cx="361.25" cy="1893" r="8.0" fill="#069B9E"/>
<circle cx="361.25" cy="1899.5" r="8.0" fill="#069B9E"/>
<circle cx="361.25" cy="1906" r="8.0" fill="#069B9E"/>
<circle cx="453.65" cy="1943.8" r="8.0" fill="#6B8E23"/>
<path class="pth" d="M176.45 1737.5L299.65 1753L268.85 1758.75L361.25 1893L361.25 1899.5L361.25 1906L453.65 1943.8"/>
<text class="ann" x="161.2" y="1711.8" textLength="126.1" lengthAdjust="spacing">Costa Rica</text>
<text class="ann" x="356.3" y="1711.8" textLength="96.0" lengthAdjust="spacing">Panama</text>
<text class="strip" transform="translate(306.9 1653) scale(0.928 1)">B7</text>
<g class="axr" text-anchor="end">
<text transform="translate(188.65 2403.6) rotate(-45)" x="0" y="0">S2_CR</text>
<text transform="translate(219.45 2403.6) rotate(-45)" x="0" y="0">S3_CR</text>
<text transform="translate(250.25 2403.6) rotate(-45)" x="0" y="0">S4_CR</text>
<text transform="translate(281.05 2403.6) rotate(-45)" x="0" y="0">S6_CR</text>
<text transform="translate(311.85 2403.6) rotate(-45)" x="0" y="0">S7_CR</text>
<text transform="translate(342.65 2403.6) rotate(-45)" x="0" y="0">S8_CR</text>
<text transform="translate(373.45 2403.6) rotate(-45)" x="0" y="0">S1_PA</text>
<text transform="translate(404.25 2403.6) rotate(-45)" x="0" y="0">S2_PA</text>
<text transform="translate(435.05 2403.6) rotate(-45)" x="0" y="0">S3_PA</text>
<text transform="translate(465.85 2403.6) rotate(-45)" x="0" y="0">S4_PA</text>
<text transform="translate(496.65 2403.6) rotate(-45)" x="0" y="0">S5_PA</text>
</g>
</g>
<g id="panel-B8">
<path class="gm" d="M546.7 2341.87H892.2M546.7 2317.32H892.2M546.7 2292.56H892.2M546.7 2268.01H892.2M546.7 2243.55H892.2M546.7 2218.8H892.2M546.7 2194.24H892.2M546.7 2169.79H892.2M546.7 2145.03H892.2M546.7 2120.47H892.2M546.7 2096.02H892.2M546.7 2071.26H892.2M546.7 2046.61H892.2M546.7 2022.05H892.2M546.7 1997.3H892.2M546.7 1972.74H892.2M546.7 1948.29H892.2M546.7 1923.53H892.2M546.7 1898.97H892.2M546.7 1874.52H892.2M546.7 1849.76H892.2M546.7 1825.21H892.2M546.7 1800.75H892.2M546.7 1776H892.2M546.7 1751.34H892.2M546.7 1726.79H892.2M546.7 1702.03H892.2M546.7 2366.33H892.2M546.7 1678H892.2"/>
<path class="gM" d="M546.7 2354.1H892.2M546.7 2329.65H892.2M546.7 2304.99H892.2M546.7 2280.13H892.2M546.7 2255.88H892.2M546.7 2231.22H892.2M546.7 2206.37H892.2M546.7 2182.11H892.2M546.7 2157.46H892.2M546.7 2132.6H892.2M546.7 2108.35H892.2M546.7 2083.69H892.2M546.7 2058.83H892.2M546.7 2034.38H892.2M546.7 2009.72H892.2M546.7 1984.87H892.2M546.7 1960.61H892.2M546.7 1935.96H892.2M546.7 1911.1H892.2M546.7 1886.85H892.2M546.7 1862.19H892.2M546.7 1837.33H892.2M546.7 1813.08H892.2M546.7 1788.43H892.2M546.7 1763.57H892.2M546.7 1739.11H892.2M546.7 1714.46H892.2M546.7 1689.6H892.2M565.45 1669.3V2377M596.25 1669.3V2377M627.05 1669.3V2377M657.85 1669.3V2377M688.65 1669.3V2377M719.45 1669.3V2377M750.25 1669.3V2377M781.05 1669.3V2377M811.85 1669.3V2377M842.65 1669.3V2377M873.45 1669.3V2377"/>
<path class="vl" d="M719.45 1677.25V2377"/>
<circle cx="565.45" cy="1723.5" r="8.0" fill="#1976D2"/>
<circle cx="565.45" cy="1731.5" r="8.0" fill="#1976D2"/>
<circle cx="565.45" cy="1747" r="8.0" fill="#1976D2"/>
<circle cx="565.45" cy="1753" r="8.0" fill="#1976D2"/>
<circle cx="842.65" cy="1782.7" r="8.0" fill="#6B8E23"/>
<circle cx="842.65" cy="1806.8" r="8.0" fill="#6B8E23"/>
<circle cx="842.65" cy="1826.7" r="8.0" fill="#6B8E23"/>
<circle cx="842.65" cy="1855.8" r="8.0" fill="#6B8E23"/>
<circle cx="750.25" cy="1863.2" r="8.0" fill="#069B9E"/>
<circle cx="750.25" cy="1865.7" r="8.0" fill="#069B9E"/>
<circle cx="842.65" cy="1870.7" r="8.0" fill="#6B8E23"/>
<circle cx="750.25" cy="1873.7" r="8.0" fill="#069B9E"/>
<circle cx="750.25" cy="1913.25" r="8.0" fill="#069B9E"/>
<circle cx="781.05" cy="1968.75" r="8.0" fill="#0000FF"/>
<circle cx="781.05" cy="2185.75" r="8.0" fill="#0000FF"/>
<circle cx="750.25" cy="2190.75" r="8.0" fill="#069B9E"/>
<circle cx="750.25" cy="2284.5" r="8.0" fill="#069B9E"/>
<circle cx="750.25" cy="2345.5" r="8.0" fill="#069B9E"/>
<path class="pth" d="M565.45 1723.5L565.45 1731.5L565.45 1747L565.45 1753L842.65 1782.7L842.65 1806.8L842.65 1826.7L842.65 1855.8L750.25 1863.2L750.25 1865.7L842.65 1870.7L750.25 1873.7L750.25 1913.25L781.05 1968.75L781.05 2185.75L750.25 2190.75L750.25 2284.5L750.25 2345.5"/>
<text class="ann" x="550.2" y="1711.8" textLength="126.1" lengthAdjust="spacing">Costa Rica</text>
<text class="ann" x="745.3" y="1711.8" textLength="96.0" lengthAdjust="spacing">Panama</text>
<text class="strip" transform="translate(695.9 1653) scale(0.928 1)">B8</text>
<g class="axr" text-anchor="end">
<text transform="translate(577.65 2403.6) rotate(-45)" x="0" y="0">S2_CR</text>
<text transform="translate(608.45 2403.6) rotate(-45)" x="0" y="0">S3_CR</text>
<text transform="translate(639.25 2403.6) rotate(-45)" x="0" y="0">S4_CR</text>
<text transform="translate(670.05 2403.6) rotate(-45)" x="0" y="0">S6_CR</text>
<text transform="translate(700.85 2403.6) rotate(-45)" x="0" y="0">S7_CR</text>
<text transform="translate(731.65 2403.6) rotate(-45)" x="0" y="0">S8_CR</text>
<text transform="translate(762.45 2403.6) rotate(-45)" x="0" y="0">S1_PA</text>
<text transform="translate(793.25 2403.6) rotate(-45)" x="0" y="0">S2_PA</text>
<text transform="translate(824.05 2403.6) rotate(-45)" x="0" y="0">S3_PA</text>
<text transform="translate(854.85 2403.6) rotate(-45)" x="0" y="0">S4_PA</text>
<text transform="translate(885.65 2403.6) rotate(-45)" x="0" y="0">S5_PA</text>
</g>
</g>
<g id="panel-B9">
<path class="gm" d="M935.7 2341.87H1281.2M935.7 2317.32H1281.2M935.7 2292.56H1281.2M935.7 2268.01H1281.2M935.7 2243.55H1281.2M935.7 2218.8H1281.2M935.7 2194.24H1281.2M935.7 2169.79H1281.2M935.7 2145.03H1281.2M935.7 2120.47H1281.2M935.7 2096.02H1281.2M935.7 2071.26H1281.2M935.7 2046.61H1281.2M935.7 2022.05H1281.2M935.7 1997.3H1281.2M935.7 1972.74H1281.2M935.7 1948.29H1281.2M935.7 1923.53H1281.2M935.7 1898.97H1281.2M935.7 1874.52H1281.2M935.7 1849.76H1281.2M935.7 1825.21H1281.2M935.7 1800.75H1281.2M935.7 1776H1281.2M935.7 1751.34H1281.2M935.7 1726.79H1281.2M935.7 1702.03H1281.2M935.7 2366.33H1281.2M935.7 1678H1281.2"/>
<path class="gM" d="M935.7 2354.1H1281.2M935.7 2329.65H1281.2M935.7 2304.99H1281.2M935.7 2280.13H1281.2M935.7 2255.88H1281.2M935.7 2231.22H1281.2M935.7 2206.37H1281.2M935.7 2182.11H1281.2M935.7 2157.46H1281.2M935.7 2132.6H1281.2M935.7 2108.35H1281.2M935.7 2083.69H1281.2M935.7 2058.83H1281.2M935.7 2034.38H1281.2M935.7 2009.72H1281.2M935.7 1984.87H1281.2M935.7 1960.61H1281.2M935.7 1935.96H1281.2M935.7 1911.1H1281.2M935.7 1886.85H1281.2M935.7 1862.19H1281.2M935.7 1837.33H1281.2M935.7 1813.08H1281.2M935.7 1788.43H1281.2M935.7 1763.57H1281.2M935.7 1739.11H1281.2M935.7 1714.46H1281.2M935.7 1689.6H1281.2M954.45 1669.3V2377M985.25 1669.3V2377M1016.05 1669.3V2377M1046.85 1669.3V2377M1077.65 1669.3V2377M1108.45 1669.3V2377M1139.25 1669.3V2377M1170.05 1669.3V2377M1200.85 1669.3V2377M1231.65 1669.3V2377M1262.45 1669.3V2377"/>
<path class="vl" d="M1108.45 1677.25V2377"/>
<circle cx="1108.45" cy="1724.25" r="8.0" fill="#F57C00"/>
<circle cx="1231.65" cy="1951.9" r="8.0" fill="#6B8E23"/>
<circle cx="1231.65" cy="1959.4" r="8.0" fill="#6B8E23"/>
<circle cx="1262.45" cy="1965.9" r="8.0" fill="#D4A03C"/>
<circle cx="1231.65" cy="1975" r="8.0" fill="#6B8E23"/>
<circle cx="1231.65" cy="1980.5" r="8.0" fill="#6B8E23"/>
<circle cx="1231.65" cy="1996" r="8.0" fill="#6B8E23"/>
<circle cx="1139.25" cy="2057.5" r="8.0" fill="#069B9E"/>
<circle cx="1139.25" cy="2062.5" r="8.0" fill="#069B9E"/>
<circle cx="1139.25" cy="2343.25" r="8.0" fill="#069B9E"/>
<path class="pth" d="M1108.45 1724.25L1231.65 1951.9L1231.65 1959.4L1262.45 1965.9L1231.65 1975L1231.65 1980.5L1231.65 1996L1139.25 2057.5L1139.25 2062.5L1139.25 2343.25"/>
<text class="ann" x="939.2" y="1711.8" textLength="126.1" lengthAdjust="spacing">Costa Rica</text>
<text class="ann" x="1134.3" y="1711.8" textLength="96.0" lengthAdjust="spacing">Panama</text>
<text class="strip" transform="translate(1084.9 1653) scale(0.928 1)">B9</text>
<g class="axr" text-anchor="end">
<text transform="translate(966.65 2403.6) rotate(-45)" x="0" y="0">S2_CR</text>
<text transform="translate(997.45 2403.6) rotate(-45)" x="0" y="0">S3_CR</text>
<text transform="translate(1028.25 2403.6) rotate(-45)" x="0" y="0">S4_CR</text>
<text transform="translate(1059.05 2403.6) rotate(-45)" x="0" y="0">S6_CR</text>
<text transform="translate(1089.85 2403.6) rotate(-45)" x="0" y="0">S7_CR</text>
<text transform="translate(1120.65 2403.6) rotate(-45)" x="0" y="0">S8_CR</text>
<text transform="translate(1151.45 2403.6) rotate(-45)" x="0" y="0">S1_PA</text>
<text transform="translate(1182.25 2403.6) rotate(-45)" x="0" y="0">S2_PA</text>
<text transform="translate(1213.05 2403.6) rotate(-45)" x="0" y="0">S3_PA</text>
<text transform="translate(1243.85 2403.6) rotate(-45)" x="0" y="0">S4_PA</text>
<text transform="translate(1274.65 2403.6) rotate(-45)" x="0" y="0">S5_PA</text>
</g>
</g>
<text class="ttl" text-anchor="middle" transform="translate(28.7 1211.2) rotate(-90)">Date</text>
<text class="ttl" text-anchor="middle" x="718.9" y="2489.6" style="letter-spacing:0.1px">Monitoring Station</text>
<g id="legend">
<text class="ttl" x="1330.5" y="930">Station</text>
<circle cx="1356.7" cy="974.4" r="5.9" fill="#1976D2"/>
<text class="lg" x="1399.8" y="986.3">S2_CR</text>
<circle cx="1356.7" cy="1026.68" r="5.9" fill="#388E3C"/>
<text class="lg" x="1399.8" y="1038.58">S3_CR</text>
<circle cx="1356.7" cy="1078.96" r="5.9" fill="#FBC02D"/>
<text class="lg" x="1399.8" y="1090.86">S4_CR</text>
<circle cx="1356.7" cy="1131.24" r="5.9" fill="#E91E63"/>
<text class="lg" x="1399.8" y="1143.14">S6_CR</text>
<circle cx="1356.7" cy="1183.52" r="5.9" fill="#0288D1"/>
<text class="lg" x="1399.8" y="1195.42">S7_CR</text>
<circle cx="1356.7" cy="1235.8" r="5.9" fill="#F57C00"/>
<text class="lg" x="1399.8" y="1247.7">S8_CR</text>
<circle cx="1356.7" cy="1288.08" r="5.9" fill="#069B9E"/>
<text class="lg" x="1399.8" y="1299.98">S1_PA</text>
<circle cx="1356.7" cy="1340.36" r="5.9" fill="#0000FF"/>
<text class="lg" x="1399.8" y="1352.26">S2_PA</text>
<circle cx="1356.7" cy="1392.64" r="5.9" fill="#FD7265"/>
<text class="lg" x="1399.8" y="1404.54">S3_PA</text>
<circle cx="1356.7" cy="1444.92" r="5.9" fill="#6B8E23"/>
<text class="lg" x="1399.8" y="1456.82">S4_PA</text>
<circle cx="1356.7" cy="1497.2" r="5.9" fill="#D4A03C"/>
<text class="lg" x="1399.8" y="1509.1">S5_PA</text>
</g>
</svg></body></html>
